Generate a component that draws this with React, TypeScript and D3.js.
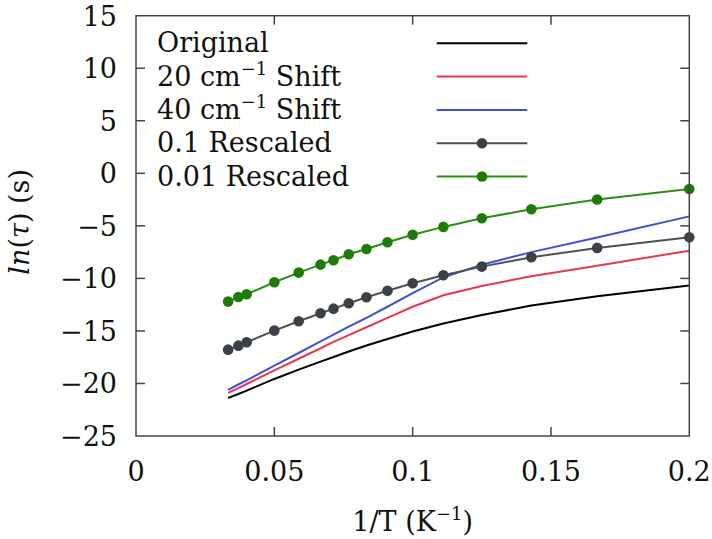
import React from "react";
import * as d3 from "d3";

const invT = [0.0333, 0.037, 0.04, 0.05, 0.0588, 0.0667, 0.0714, 0.0769, 0.0833, 0.0909, 0.1, 0.1111, 0.125, 0.1429, 0.1667, 0.2];
const original = [-21.38, -21.0, -20.68, -19.57, -18.68, -17.92, -17.48, -16.96, -16.39, -15.77, -15.06, -14.3, -13.48, -12.59, -11.7, -10.68];
const shift20 = [-20.9, -20.45, -20.05, -18.75, -17.65, -16.65, -16.05, -15.4, -14.65, -13.75, -12.7, -11.6, -10.72, -9.8, -8.8, -7.36];
const shift40 = [-20.6, -20.1, -19.7, -18.3, -17.1, -16.0, -15.35, -14.6, -13.75, -12.7, -11.4, -9.9, -8.7, -7.5, -6.1, -4.1];
const rescaled01 = [-16.78, -16.4, -16.08, -14.97, -14.08, -13.32, -12.88, -12.36, -11.79, -11.17, -10.46, -9.7, -8.88, -7.99, -7.1, -6.08];
const rescaled001 = [-12.21, -11.77, -11.51, -10.37, -9.45, -8.69, -8.27, -7.7, -7.2, -6.56, -5.84, -5.1, -4.28, -3.42, -2.49, -1.49];

const xTicks = [0, 0.05, 0.1, 0.15, 0.2];
const xTickLabels = ["0", "0.05", "0.1", "0.15", "0.2"];
const yTicks = [15, 10, 5, 0, -5, -10, -15, -20, -25];

const series = [
  { key: "orig", values: original, color: "#000000", marker: null as string | null },
  { key: "s20", values: shift20, color: "#e8384f", marker: null },
  { key: "s40", values: shift40, color: "#3e50d6", marker: null },
  { key: "r01", values: rescaled01, color: "#4b5157", marker: "#3b4146" },
  { key: "r001", values: rescaled001, color: "#2a8f14", marker: "#1f7b08" },
];

const FONT = '"DejaVu Serif", "Liberation Serif", serif';
const FS = 27;

export default function App() {
  const W = 712, H = 539;
  const L = 136, R = 689.3, T = 15.7, B = 436;
  const x = d3.scaleLinear().domain([0, 0.2]).range([L, R]);
  const y = d3.scaleLinear().domain([-25, 15]).range([B, T]);
  const line = d3.line<[number, number]>().x((d) => x(d[0])).y((d) => y(d[1]));
  const axisColor = "#444444";
  const tickLen = 9;
  const ts = { fontFamily: FONT, fontSize: FS, fill: "#111" } as React.CSSProperties;

  const legendRows = [
    { label: <tspan>Original</tspan>, s: series[0] },
    { label: <><tspan>20 cm</tspan><tspan dy={-11} style={{ fontSize: 18 }}>−1</tspan><tspan dy={11}> Shift</tspan></>, s: series[1] },
    { label: <><tspan>40 cm</tspan><tspan dy={-11} style={{ fontSize: 18 }}>−1</tspan><tspan dy={11}> Shift</tspan></>, s: series[2] },
    { label: <tspan>0.1 Rescaled</tspan>, s: series[3] },
    { label: <tspan>0.01 Rescaled</tspan>, s: series[4] },
  ];

  return (
    <svg width={W} height={H} style={{ position: "absolute", left: 0, top: 0, background: "#fff", fontFamily: FONT }}>
      <rect x={0} y={0} width={W} height={H} fill="#fff" />
      {series.map((s) => (
        <g key={s.key}>
          <path d={line(invT.map((v, i) => [v, s.values[i]] as [number, number])) || ""} fill="none" stroke={s.color} strokeWidth={2} />
          {s.marker && invT.map((v, i) => (
            <circle key={i} cx={x(v)} cy={y(s.values[i])} r={5.3} fill={s.marker} />
          ))}
        </g>
      ))}
      <rect x={L} y={T} width={R - L} height={B - T} fill="none" stroke={axisColor} strokeWidth={1.5} />
      {xTicks.map((t, i) => (
        <g key={"x" + i}>
          {i > 0 && i < xTicks.length - 1 && (
            <>
              <line x1={x(t)} x2={x(t)} y1={B} y2={B - tickLen} stroke={axisColor} strokeWidth={1.5} />
              <line x1={x(t)} x2={x(t)} y1={T} y2={T + tickLen} stroke={axisColor} strokeWidth={1.5} />
            </>
          )}
          <text x={x(t)} y={481} textAnchor="middle" style={ts}>{xTickLabels[i]}</text>
        </g>
      ))}
      {yTicks.map((t, i) => (
        <g key={"y" + i}>
          {t !== 15 && t !== -25 && (
            <>
              <line x1={L} x2={L + tickLen} y1={y(t)} y2={y(t)} stroke={axisColor} strokeWidth={1.5} />
              <line x1={R} x2={R - tickLen} y1={y(t)} y2={y(t)} stroke={axisColor} strokeWidth={1.5} />
            </>
          )}
          <text x={117} y={y(t) + 10} textAnchor="end" style={ts}>{t < 0 ? "−" + Math.abs(t) : String(t)}</text>
        </g>
      ))}
      <text x={(L + R) / 2} y={531} textAnchor="middle" style={ts}>
        <tspan>1/T (K</tspan><tspan dy={-11} style={{ fontSize: 18 }}>−1</tspan><tspan dy={11}>)</tspan>
      </text>
      <text transform={`translate(29, ${(T + B) / 2 - 4}) rotate(-90)`} textAnchor="middle" style={ts}>
        <tspan fontStyle="italic">ln</tspan><tspan>(</tspan><tspan fontStyle="italic">τ</tspan><tspan>) (s)</tspan>
      </text>
      {legendRows.map((r, i) => {
        const ly = 43.3 + i * 33.3;
        return (
          <g key={"lg" + i}>
            <text x={157} y={ly + 9} style={ts}>{r.label}</text>
            <line x1={436.7} x2={527.3} y1={ly} y2={ly} stroke={r.s.color} strokeWidth={2} />
            {r.s.marker && <circle cx={482} cy={ly} r={5.3} fill={r.s.marker} />}
          </g>
        );
      })}
    </svg>
  );
}
